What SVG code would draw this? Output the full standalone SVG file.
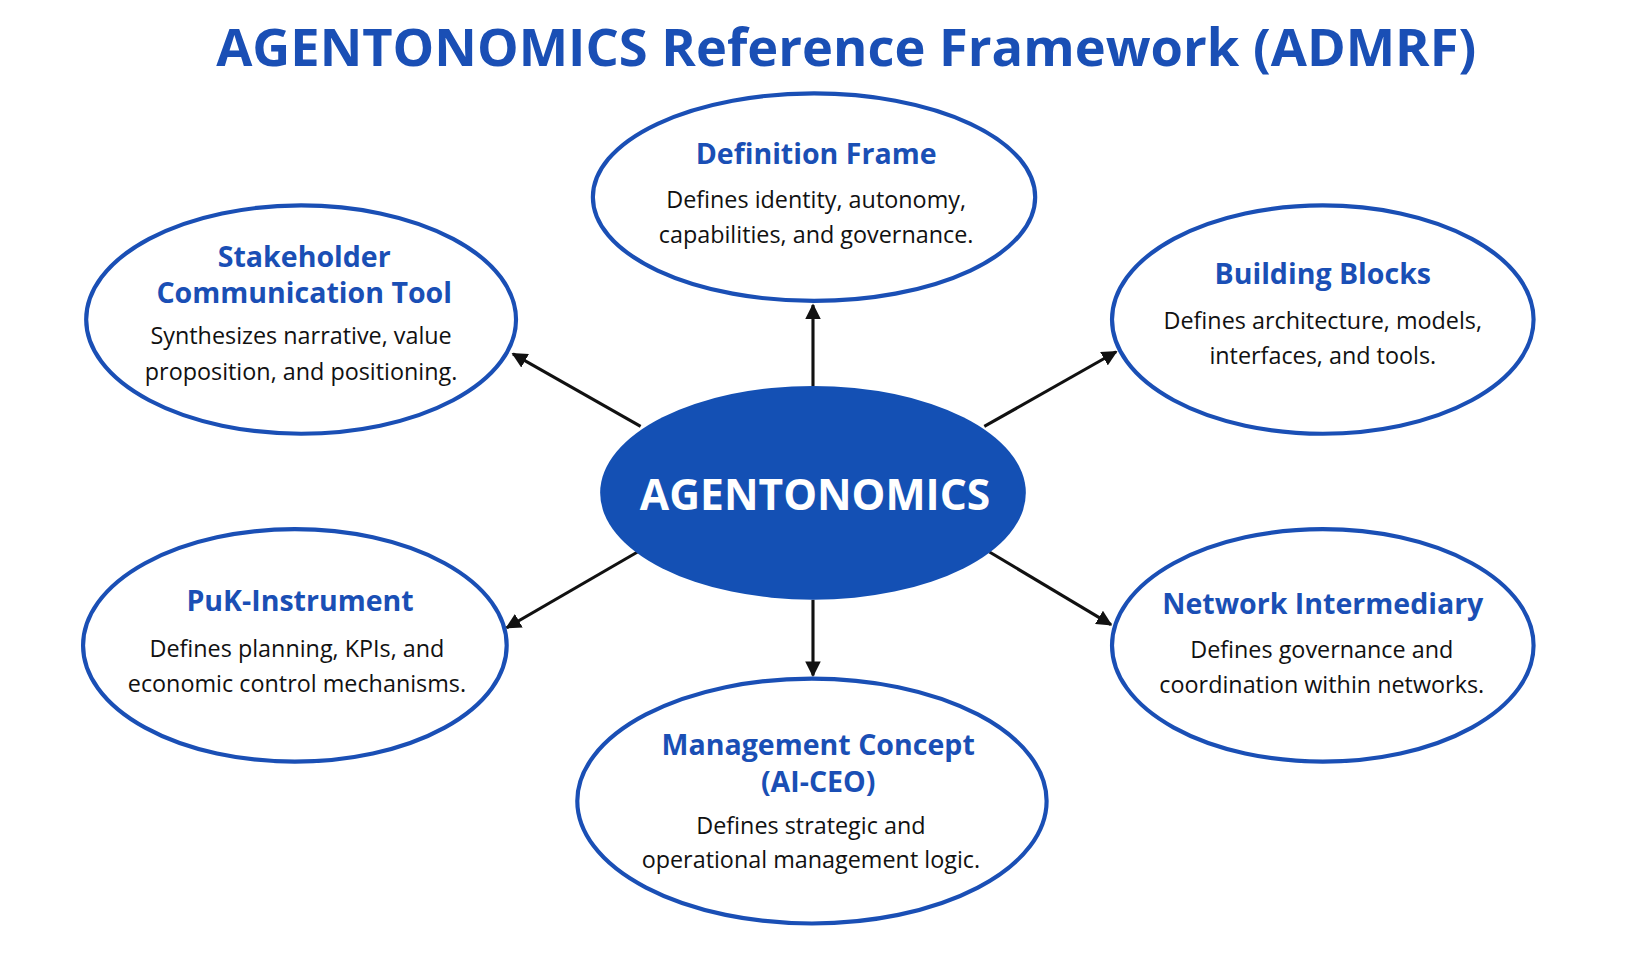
<svg xmlns="http://www.w3.org/2000/svg" width="1628" height="966" viewBox="0 0 1628 966">
<defs>
<marker id="ah" viewBox="0 0 10 10" refX="9" refY="5" markerWidth="5" markerHeight="5" orient="auto"><path d="M0,0 L10,5 L0,10 z" fill="#111"/></marker>
<style>
.n{fill:#fff;stroke:#1a4fb5;stroke-width:4}
.h{font-family:"Open Sans",sans-serif;font-weight:bold;font-size:27.5px;fill:#1a4fb5;text-anchor:middle}
.b{font-family:"Open Sans",sans-serif;font-size:22.5px;fill:#111;text-anchor:middle}
.c{stroke:#111;stroke-width:3;fill:none;marker-end:url(#ah)}
</style>
</defs>
<rect width="1628" height="966" fill="#fff"/>
<g transform="scale(1.0383,1.0376)">
<text x="815" y="64" font-family="Open Sans,sans-serif" font-weight="bold" font-size="50.5" fill="#1a4fb5" text-anchor="middle">AGENTONOMICS Reference Framework (ADMRF)</text>
<g id="connectors">
<line class="c" x1="783" y1="372" x2="783" y2="294"/>
<line class="c" x1="617" y1="411" x2="494" y2="341"/>
<line class="c" x1="948" y1="411" x2="1075" y2="339"/>
<line class="c" x1="614" y1="532" x2="488" y2="605"/>
<line class="c" x1="783" y1="578" x2="783" y2="651"/>
<line class="c" x1="953" y1="532" x2="1070" y2="602"/>
</g>
<g id="center"><ellipse cx="783" cy="475" rx="205" ry="103" fill="#1450b4"/>
<text x="785" y="492" font-family="Open Sans,sans-serif" font-weight="bold" font-size="41" fill="#fff" text-anchor="middle">AGENTONOMICS</text></g>
<g id="definition"><ellipse class="n" cx="784" cy="190" rx="213" ry="100"/>
<text class="h" x="786" y="158">Definition Frame</text>
<text class="b" x="786" y="200">Defines identity, autonomy,</text>
<text class="b" x="786" y="234">capabilities, and governance.</text></g>
<g id="stakeholder"><ellipse class="n" cx="290" cy="308" rx="207" ry="110"/>
<text class="h" x="293" y="257">Stakeholder</text>
<text class="h" x="293" y="292">Communication Tool</text>
<text class="b" x="290" y="332">Synthesizes narrative, value</text>
<text class="b" x="290" y="366">proposition, and positioning.</text></g>
<g id="building"><ellipse class="n" cx="1274" cy="308" rx="203" ry="110"/>
<text class="h" x="1274" y="274">Building Blocks</text>
<text class="b" x="1274" y="317">Defines architecture, models,</text>
<text class="b" x="1274" y="351">interfaces, and tools.</text></g>
<g id="puk"><ellipse class="n" cx="284" cy="622" rx="204" ry="112"/>
<text class="h" x="289" y="589">PuK-Instrument</text>
<text class="b" x="286" y="633">Defines planning, KPIs, and</text>
<text class="b" x="286" y="667">economic control mechanisms.</text></g>
<g id="network"><ellipse class="n" cx="1274" cy="622" rx="203" ry="112"/>
<text class="h" x="1274" y="592">Network Intermediary</text>
<text class="b" x="1273" y="634">Defines governance and</text>
<text class="b" x="1273" y="668">coordination within networks.</text></g>
<g id="management"><ellipse class="n" cx="782" cy="772" rx="226" ry="118"/>
<text class="h" x="788" y="728">Management Concept</text>
<text class="h" x="788" y="763">(AI-CEO)</text>
<text class="b" x="781" y="804">Defines strategic and</text>
<text class="b" x="781" y="837">operational management logic.</text></g>
</g>
</svg>
